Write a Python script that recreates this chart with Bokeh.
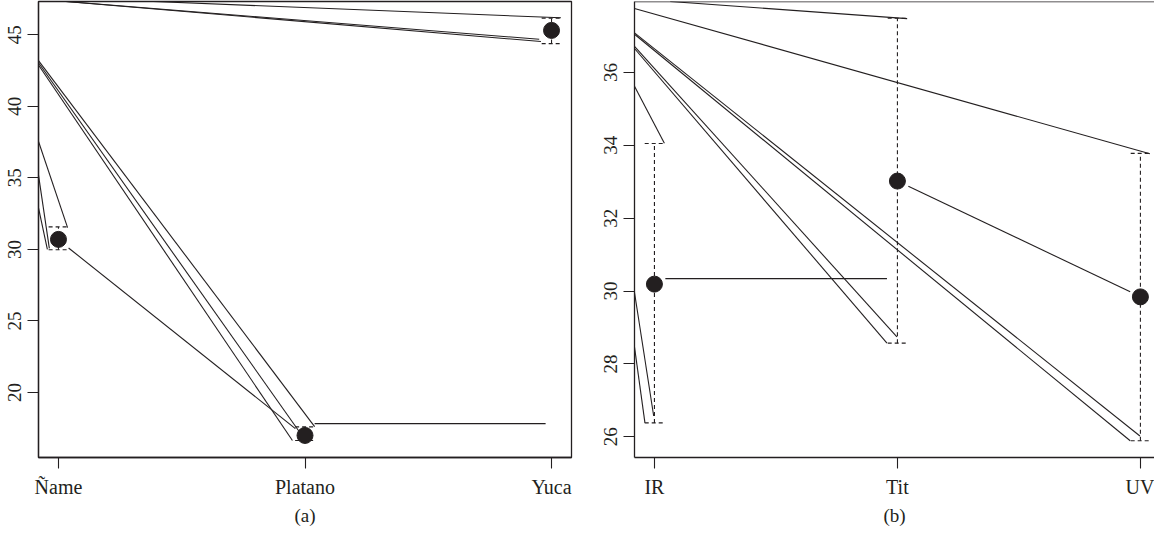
from bokeh.plotting import figure
from bokeh.layouts import row
from bokeh.models import Range1d, FixedTicker, Span
from bokeh.embed import file_html
from bokeh.resources import INLINE

INK = "#231f20"
FONT = "Liberation Serif"

# ---------------- Panel (a) ----------------
a_categories = ["Ñame", "Platano", "Yuca"]
a_means = [30.7, 17.0, 45.3]
a_lower = [29.98, 16.65, 44.38]
a_upper = [31.57, 17.60, 46.16]
a_yticks = [20, 25, 30, 35, 40, 45]
# connecting line segments as they appear in the figure
# (x in category-index units, y in value units)
a_seg_x0 = [1.312, 0.993, 0.993, 0.919, 0.919, 0.919, 0.919, 0.919, 0.919, 1.041, 2.039]
a_seg_y0 = [47.37, 47.37, 47.37, 43.19, 43.04, 42.88, 37.54, 35.19, 32.90, 30.10, 17.83]
a_seg_x1 = [3.038, 2.950, 2.957, 2.039, 1.982, 1.949, 1.037, 0.963, 0.955, 1.961, 2.976]
a_seg_y1 = [46.18, 44.68, 44.52, 17.62, 17.14, 16.65, 31.52, 30.07, 30.00, 17.48, 17.83]

# ---------------- Panel (b) ----------------
b_categories = ["IR", "Tit", "UV"]
b_means = [30.19, 33.02, 29.84]
b_lower = [26.38, 28.57, 25.89]
b_upper = [34.05, 37.49, 33.78]
b_yticks = [26, 28, 30, 32, 34, 36]
b_seg_x0 = [1.065, 0.918, 0.918, 0.918, 0.918, 0.918, 0.918, 0.918, 0.918, 1.045, 2.045]
b_seg_y0 = [37.95, 37.76, 37.05, 37.09, 36.66, 36.72, 35.62, 29.96, 28.46, 30.34, 32.88]
b_seg_x1 = [2.040, 3.039, 2.958, 2.998, 1.957, 1.998, 1.041, 0.997, 0.961, 1.957, 2.958]
b_seg_y1 = [37.48, 33.77, 25.89, 26.02, 28.57, 28.74, 34.06, 26.57, 26.38, 30.34, 29.98]

CAP = 0.04


def make_panel(cats, means, lower, upper, yticks, sx0, sy0, sx1, sy1,
               xr, yr, width, bl, br, label, outline):
    p = figure(width=width, height=528, x_range=Range1d(*xr), y_range=Range1d(*yr),
               output_backend="svg", toolbar_location=None,
               min_border_left=bl, min_border_right=br,
               min_border_top=1, min_border_bottom=67)
    p.background_fill_color = "white"
    p.border_fill_color = "white"
    p.xgrid.visible = False
    p.ygrid.visible = False
    if outline:
        p.outline_line_color = INK
        p.outline_line_width = 1.3
    else:
        p.outline_line_color = None
        p.add_layout(Span(location=yr[1], dimension="width",
                          line_color=INK, line_width=1.3))

    xs = [i + 1 for i in range(len(cats))]

    # stray / connecting lines
    p.segment(x0=sx0, y0=sy0, x1=sx1, y1=sy1, line_color=INK, line_width=1.1)

    # dashed confidence bars and caps
    p.segment(x0=xs, y0=lower, x1=xs, y1=upper, line_color=INK,
              line_width=1.1, line_dash="4 3")
    p.segment(x0=[x - CAP for x in xs], y0=upper, x1=[x + CAP for x in xs], y1=upper,
              line_color=INK, line_width=1.1, line_dash="4 3")
    p.segment(x0=[x - CAP for x in xs], y0=lower, x1=[x + CAP for x in xs], y1=lower,
              line_color=INK, line_width=1.1, line_dash="4 3")

    # means
    p.scatter(x=xs, y=means, size=16, fill_color=INK, line_color=INK)

    xa = p.xaxis[0]
    xa.ticker = FixedTicker(ticks=xs)
    xa.major_label_overrides = {x: c for x, c in zip(xs, cats)}
    xa.minor_tick_line_color = None
    xa.major_tick_out = 11
    xa.major_tick_in = 0
    xa.major_label_standoff = 7
    xa.axis_label = label
    xa.axis_label_standoff = 4
    xa.axis_label_text_font = FONT
    xa.axis_label_text_font_size = "19px"
    xa.axis_label_text_font_style = "normal"
    xa.axis_label_text_color = INK
    xa.major_label_text_font = FONT
    xa.major_label_text_font_size = "20px"
    xa.major_label_text_color = INK
    xa.axis_line_color = INK
    xa.axis_line_width = 1.3
    xa.major_tick_line_color = INK
    xa.major_tick_line_width = 1.1

    ya = p.yaxis[0]
    ya.ticker = FixedTicker(ticks=yticks)
    ya.minor_tick_line_color = None
    ya.major_tick_out = 11
    ya.major_tick_in = 0
    ya.major_label_standoff = 6
    ya.major_label_orientation = "vertical"
    ya.major_label_text_font = FONT
    ya.major_label_text_font_size = "19px"
    ya.major_label_text_color = INK
    ya.axis_line_color = INK
    ya.axis_line_width = 1.3
    ya.major_tick_line_color = INK
    ya.major_tick_line_width = 1.1
    return p


pa = make_panel(a_categories, a_means, a_lower, a_upper, a_yticks,
                a_seg_x0, a_seg_y0, a_seg_x1, a_seg_y1,
                (0.919, 3.081), (15.46, 47.32), 592, 38, 21, "(a)", True)
pb = make_panel(b_categories, b_means, b_lower, b_upper, b_yticks,
                b_seg_x0, b_seg_y0, b_seg_x1, b_seg_y1,
                (0.918, 3.058), (25.43, 37.95), 562, 42, 0, "(b)", False)

layout = row(pa, pb)
open("out.html", "w").write(file_html(layout, INLINE))
